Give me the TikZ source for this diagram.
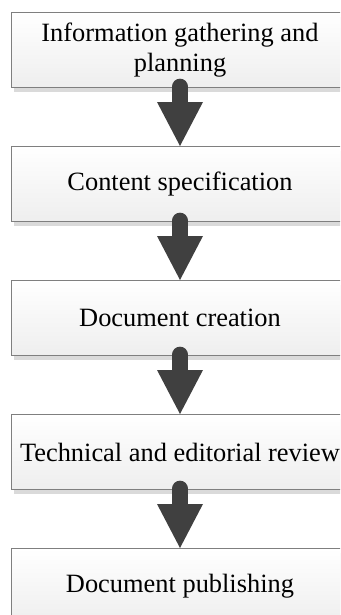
\documentclass[tikz,border=0pt]{standalone}
\usepackage{fontspec}
\setmainfont{Liberation Serif}
\usepackage{xcolor}
\usepackage{tikz}
\usetikzlibrary{arrows.meta,positioning,shadows}
\definecolor{flow_edge}{RGB}{127,127,127}
\definecolor{flow_top}{RGB}{255,255,255}
\definecolor{flow_bottom}{RGB}{238,238,238}
\definecolor{flow_arrow}{RGB}{64,64,64}
\definecolor{flow_shadow}{RGB}{218,218,218}

\begin{document}
\begin{tikzpicture}[font=\fontsize{19.8}{22}\selectfont,
    stagebox/.style={draw=flow_edge, line width=0.75pt,
      top color=flow_top, bottom color=flow_bottom,
      drop shadow={shadow xshift=2.25pt, shadow yshift=-3pt,
        fill=flow_shadow, opacity=1},
      minimum width=253.5pt, minimum height=56.25pt,
      inner xsep=0pt, align=center},
    fatarrow/.style={line width=12pt, line cap=round, flow_arrow,
      -{Triangle[width=34.5pt, length=33pt, line width=0pt]}},
    node distance=43.5pt]
        \clip (0,0) rectangle (255pt,-461.25pt);
        % Stages
        \node[stagebox] (gather) at (135pt,-37.5pt)
          {Information gathering and\\planning};
        \node[stagebox, below=of gather] (spec) {Content specification};
        \node[stagebox, below=of spec] (create) {Document creation};
        \node[stagebox, below=of create] (review)
          {Technical and editorial review};
        \node[stagebox, below=of review] (publish) {Document publishing};
        % Arrows between stages
        \draw[fatarrow] ([yshift=1pt]gather.south) -- (spec.north);
        \draw[fatarrow] ([yshift=1pt]spec.south) -- (create.north);
        \draw[fatarrow] ([yshift=1pt]create.south) -- (review.north);
        \draw[fatarrow] ([yshift=1pt]review.south) -- (publish.north);
\end{tikzpicture}
\end{document}
